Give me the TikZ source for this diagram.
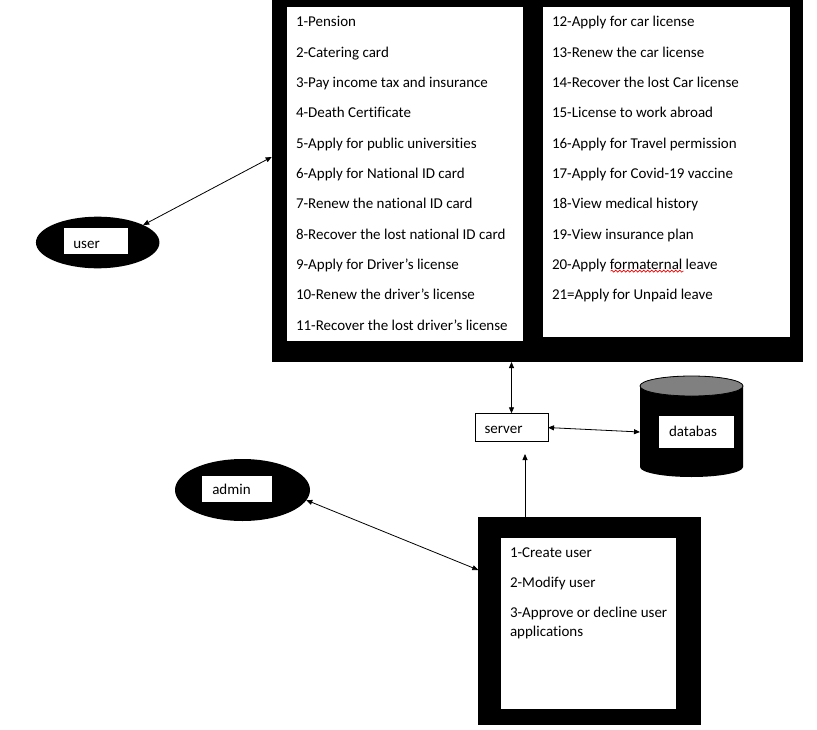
\documentclass[tikz,border=0pt]{standalone}
\usepackage{fontspec}
\setmainfont{Carlito}[Ligatures=NoCommon]
\usetikzlibrary{arrows.meta,shapes.geometric,decorations.pathmorphing}
\begin{document}
\begin{tikzpicture}[x=1bp,y=-1bp,
  every node/.style={inner sep=0pt, outer sep=0pt},
  txt/.style={anchor=base west, font=\fontsize{15bp}{18bp}\selectfont},
  blackbox/.style={fill=black, anchor=north west},
  whitebox/.style={fill=white, anchor=north west},
  actor/.style={ellipse, fill=black},
  tip/.tip={Triangle[length=6bp,width=5bp]},
  link/.style={line width=0.8bp, tip-tip},
  oneway/.style={line width=0.8bp, -tip},
]
\useasboundingbox (0,0) rectangle (817,730);

% ---- user services panel ----
\node[blackbox, minimum width=531bp, minimum height=362bp] (services) at (272,0) {};
\node[whitebox, minimum width=236bp, minimum height=334bp] (colA) at (287,7) {};
\node[whitebox, minimum width=247bp, minimum height=330bp] (colB) at (543,7) {};

\foreach \t [count=\i] in {1-Pension, 2-Catering card, 3-Pay income tax and insurance,
    4-Death Certificate, 5-Apply for public universities, 6-Apply for National ID card,
    7-Renew the national ID card, 8-Recover the lost national ID card,
    9-Apply for Driver’s license, 10-Renew the driver’s license,
    11-Recover the lost driver’s license}
  \node[txt] (a\i) at (296,{26.7+30.33*(\i-1)}) {\t};

\foreach \t [count=\i] in {12-Apply for car license, 13-Renew the car license,
    14-Recover the lost Car license, 15-License to work abroad,
    16-Apply for Travel permission, 17-Apply for Covid-19 vaccine,
    18-View medical history, 19-View insurance plan,
    20-Apply formaternal leave, 21=Apply for Unpaid leave}
  \node[txt] (b\i) at (552,{26.7+30.33*(\i-1)}) {\t};

% spell-check squiggle under "formaternal"
\draw[red, line width=0.6bp, decorate, decoration={snake, amplitude=1bp, segment length=4bp}]
  ([shift={(58.5,1.8)}]b9.base west) -- ++(73,0);

% ---- user ----
\node[actor, minimum width=123.5bp, minimum height=51.6bp] (user) at (97.7,242.5) {};
\node[whitebox, minimum width=63.4bp, minimum height=26bp] (userLabel) at (64.3,228.3) {};
\node[txt] (userText) at (73.3,248.5) {user};

% ---- server ----
\node[draw, line width=0.8bp, anchor=north west, minimum width=73bp, minimum height=28.5bp] (server) at (475,413.3) {};
\node[txt] (serverText) at (484.5,433.5) {server};

% ---- database ----
\fill[black] (640,386) -- (640,467) arc[start angle=180, end angle=0, x radius=51.5, y radius=10]
  -- (743,386) arc[start angle=0, end angle=-180, x radius=51.5, y radius=10] -- cycle;
\draw[fill=gray, line width=0.8bp] (691.5,386) ellipse[x radius=51.5, y radius=10];
\node[whitebox, minimum width=75bp, minimum height=32bp] (dbLabel) at (659,416) {};
\node[txt] (dbText) at (669,436) {databas};
\coordinate (dbPort) at (640,432);

% ---- admin ----
\node[actor, minimum width=135bp, minimum height=62bp] (admin) at (242.5,490) {};
\node[whitebox, minimum width=69.4bp, minimum height=26.3bp] (adminLabel) at (202.3,476) {};
\node[txt] (adminText) at (212.3,494.5) {admin};

% ---- admin functions panel ----
\node[blackbox, minimum width=222.4bp, minimum height=208.3bp] (adminPanel) at (478.3,516.7) {};
\node[whitebox, minimum width=175bp, minimum height=171.3bp] (adminList) at (501,537.7) {};
\node[txt] (c1) at (510,557) {1-Create user};
\node[txt] (c2) at (510,587.5) {2-Modify user};
\node[txt] (c3) at (510,617.5) {3-Approve or decline user};
\node[txt] (c3b) at (510,636.5) {applications};

% ---- connectors ----
\coordinate (uPort) at (271.7,157);
\coordinate (aPort) at (478.3,570);
\coordinate (apTop) at (525,516.7);
\coordinate (srvBelow) at (525,454);

\draw[link] (user.21) -- (uPort);
\draw[link] (server.north) -- (server.north |- services.south);
\draw[link] (server.east) -- (dbPort);
\draw[link] (admin.-9) -- (aPort);
\draw[oneway] (apTop) -- (srvBelow);
\end{tikzpicture}
\end{document}
